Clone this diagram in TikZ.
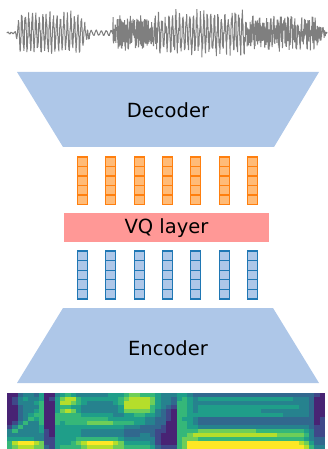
\documentclass[tikz,border=0pt]{standalone}
\usepackage{fontspec}
\setmainfont{DejaVu Sans}

% tab20-style palette
\definecolor{blockfill}{HTML}{AEC7E8}
\definecolor{blueedge}{HTML}{1F77B4}
\definecolor{orfill}{HTML}{FFBB78}
\definecolor{oredge}{HTML}{FF7F0E}
\definecolor{vqfill}{HTML}{FF9896}
\definecolor{wavegray}{HTML}{7F7F7F}
% viridis samples, 0..9
\definecolor{vir0}{HTML}{440154}
\definecolor{vir1}{HTML}{482374}
\definecolor{vir2}{HTML}{3F4889}
\definecolor{vir3}{HTML}{31688E}
\definecolor{vir4}{HTML}{26828E}
\definecolor{vir5}{HTML}{1F9E89}
\definecolor{vir6}{HTML}{35B779}
\definecolor{vir7}{HTML}{6ECE58}
\definecolor{vir8}{HTML}{B5DE2B}
\definecolor{vir9}{HTML}{FDE725}

% spectrogram cells: one row of digits per call
\newcount\spc
\newcount\spr
\def\specrow#1{\spc=0 \specnext#1\relax\advance\spr by 1 }
\def\specnext#1{\ifx\relax#1\else
  \fill[vir#1] ({7+5.3*\the\spc},{393+4*\the\spr}) rectangle ++(5.6,4.3);%
  \advance\spc by 1 \expandafter\specnext\fi}

\tikzset{
  lbl/.style={font=\fontsize{19.5}{23}\selectfont, text=black, inner sep=0pt, anchor=base},
  orcell/.style={fill=orfill, draw=oredge, line width=1.1pt},
  bluecell/.style={fill=blockfill, draw=blueedge, line width=1.1pt},
}

\begin{document}
\begin{tikzpicture}[x=1pt, y=-1pt,
  declare function={
    % periodic (voiced) amplitude
    env(\t)=(\t<15) ? 1 : ((\t<20) ? 1+(\t-15)*3.5 : ((\t<80) ? 19 : ((\t<90) ? 19-(\t-80)*1.6 :
            ((\t<113) ? 3 : ((\t<157) ? 4 : ((\t<245) ? 18 : ((\t<315) ? 6 : 6-(\t-315)*0.5)))))));
    % noise amplitude
    core(\t)=(\t<20) ? 0.4 : ((\t<80) ? 6 : ((\t<90) ? 4 : ((\t<113) ? 0.5 :
            ((\t<157) ? 15 : ((\t<245) ? 8 : ((\t<315) ? 14 : 14-(\t-315)*1.1)))))));
    per(\t)=(\t>88 && \t<113) ? 5 : 3.5;
  }]
\useasboundingbox (0,0) rectangle (328,449);

% waveform
\pgfmathsetseed{7}
\draw[wavegray, line width=1pt, line join=bevel] plot[domain=7:327, samples=1600, variable=\t]
  (\t, {33-env(\t)*sin(360*mod(\t,per(\t))/per(\t))*(0.8+0.2*rand)-core(\t)*rand});

% decoder
\fill[blockfill] (17,72) -- (319,72) -- (274,147) -- (63,147) -- cycle;
\node[lbl] (dec) at (168,117.5) {Decoder};

% quantized codes
\foreach \i in {0,...,6}{
  \foreach \j in {0,...,4}{
    \filldraw[orcell] ({77.3+28.4*\i},{157+9.5*\j}) rectangle ++(10,9.5);
  }
}

% VQ layer
\fill[vqfill] (64,213) rectangle (269,242);
\node[lbl] (vq) at (166.5,233.5) {VQ layer};

% encoder outputs
\foreach \i in {0,...,6}{
  \foreach \j in {0,...,4}{
    \filldraw[bluecell] ({77.3+28.4*\i},{251+9.6*\j}) rectangle ++(10,9.6);
  }
}

% encoder
\fill[blockfill] (63,308) -- (273,308) -- (319,383) -- (17,383) -- cycle;
\node[lbl] (enc) at (168,355) {Encoder};

% spectrogram
\fill[vir3] (7,393) rectangle (325,449);
\spr=0
\specrow{11 3443 5 11 4 5654 44444555 677666 54 44 554 33333333333333333333333 21}
\specrow{12 4544 5 12 5 7886 55555556 788887 54 43 565 4 555555555555555555 4443 11}
\specrow{12 4445 6 11 5 8876 54444456 888887 54 43 665 4444444444444444444444 3 11}
\specrow{11 3444 6 11 5 6655 44444445 888886 54 32 665 4 5555555555555555555 443 11}
\specrow{11 3445 6 11 5 7875 44444445 777776 43 21 665 4 555555555555 444444444 3 11}
\specrow{11 3456 6 11 6 6666 55555544 556655 43 21 665 55555555555555555 44444 3 11}
\specrow{11 3465 6 11 6 6666 66666555 555544 33 21 655 4 3333333333333333333333 12}
\specrow{12 4644 6 11 6 5666 67777766 665544 33 11 665 4 3333333333333333333333 12}
\specrow{24 6444 5 11 5 5555 55555555 444333 32 11 665 5 444444444444444444444 3 22}
\specrow{46 4444 5 21 5 5555 44444444 333333 22 11 666 6 77777777777 666666666 54 22}
\specrow{44 4444 4 21 5 5555 44444444 333443 21 11 667 8888888888888888 77777 64 22}
\specrow{55 5554 4 22 5 5556 66666665 444444 21 11 677 7 66666666666666666666 54 33}
\specrow{68 9998 7 22 5 5567 89999987 555554 21 11 679 99999999999999999999 875 33}
\specrow{67 8887 7 32 5 6666 78888877 666665 32 22 679 999999999999999999999 86 44}
\end{tikzpicture}
\end{document}
